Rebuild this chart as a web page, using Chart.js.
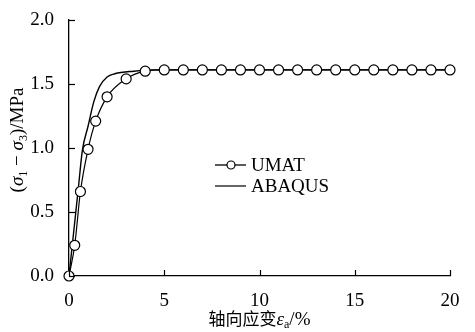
<!DOCTYPE html>
<html><head><meta charset="utf-8">
<script src="https://cdn.jsdelivr.net/npm/chart.js@4/dist/chart.umd.min.js"></script>
<style>html,body{margin:0;padding:0;background:#fff}#wrap{width:475px;height:332px}</style>
</head><body><div id="wrap"><canvas id="c" width="475" height="332"></canvas></div>
<script>
const umatStrain = [0, 0.3, 0.6, 1.0, 1.4, 2.0, 3.0, 4, 5, 6, 7, 8, 9, 10, 11, 12, 13, 14, 15, 16, 17, 18, 19, 20];
const umatStress = [0, 0.24, 0.66, 0.99, 1.21, 1.40, 1.54, 1.60, 1.61, 1.61, 1.61, 1.61, 1.61, 1.61, 1.61, 1.61, 1.61, 1.61, 1.61, 1.61, 1.61, 1.61, 1.61, 1.61];
const abaqusStrain = [0, 0.25, 0.5, 0.7, 1.0, 1.3, 1.6, 2.0, 2.4, 3.4, 4.5, 20];
const abaqusStress = [0, 0.35, 0.70, 0.98, 1.17, 1.36, 1.48, 1.555, 1.58, 1.60, 1.61, 1.61];
const xTicks = [0, 5, 10, 15, 20];
const yTicks = [0.0, 0.5, 1.0, 1.5, 2.0];
const seriesNames = ['UMAT', 'ABAQUS'];

const SERIF = '"Liberation Serif", "Times New Roman", serif';
const toXY = (xs, ys) => xs.map((x, i) => ({x: x, y: ys[i]}));

const insideTicks = {
  id: 'insideTicks',
  afterDraw(chart) {
    const ctx = chart.ctx, xs = chart.scales.x, ys = chart.scales.y, a = chart.chartArea;
    ctx.save();
    ctx.strokeStyle = '#000'; ctx.lineWidth = 1.2;
    xTicks.forEach(v => { const p = Math.round(xs.getPixelForValue(v)) + 0.5; ctx.beginPath(); ctx.moveTo(p, a.bottom); ctx.lineTo(p, a.bottom - 6); ctx.stroke(); });
    yTicks.forEach(v => { const p = Math.round(ys.getPixelForValue(v)) + 0.5; ctx.beginPath(); ctx.moveTo(a.left, p); ctx.lineTo(a.left + 6, p); ctx.stroke(); });
    ctx.restore();
  }
};

const titles = {
  id: 'titles',
  afterDraw(chart) {
    const ctx = chart.ctx, a = chart.chartArea;
    ctx.save();
    ctx.fillStyle = '#000';
    ctx.textBaseline = 'alphabetic';
    const yParts = [
      {t: '(', f: '19px ' + SERIF, dy: 0},
      {t: 'σ', f: 'italic 19px ' + SERIF, dy: 0},
      {t: '1', f: '12px ' + SERIF, dy: 4},
      {t: ' − ', f: '19px ' + SERIF, dy: 0},
      {t: 'σ', f: 'italic 19px ' + SERIF, dy: 0},
      {t: '3', f: '12px ' + SERIF, dy: 4},
      {t: ')/MPa', f: '19px ' + SERIF, dy: 0}
    ];
    let w = 0; yParts.forEach(p => { ctx.font = p.f; w += ctx.measureText(p.t).width; });
    ctx.translate(23, 140);
    ctx.rotate(-Math.PI / 2);
    let x = -w / 2;
    yParts.forEach(p => { ctx.font = p.f; ctx.fillText(p.t, x, p.dy); x += ctx.measureText(p.t).width; });
    ctx.setTransform(1, 0, 0, 1, 0, 0);
    const xParts = [
      {t: '轴向应变', f: '17px "Noto Sans CJK SC"', dy: 0},
      {t: 'ε', f: 'italic 19px ' + SERIF, dy: 0},
      {t: 'a', f: '12px ' + SERIF, dy: 3},
      {t: '/%', f: '19px ' + SERIF, dy: 0}
    ];
    w = 0; xParts.forEach(p => { ctx.font = p.f; w += ctx.measureText(p.t).width; });
    x = (a.left + a.right) / 2 - w / 2;
    xParts.forEach(p => { ctx.font = p.f; ctx.fillText(p.t, x, 325 + p.dy); x += ctx.measureText(p.t).width; });
    const items = [{y: 165, marker: true}, {y: 186, marker: false}];
    items.forEach((it, i) => {
      ctx.strokeStyle = '#000'; ctx.lineWidth = i === 0 ? 1.3 : 1.2;
      ctx.beginPath(); ctx.moveTo(215, it.y); ctx.lineTo(246, it.y); ctx.stroke();
      if (it.marker) { ctx.beginPath(); ctx.arc(231, it.y, 4, 0, Math.PI * 2); ctx.fillStyle = '#fff'; ctx.fill(); ctx.lineWidth = 1.2; ctx.stroke(); }
      ctx.fillStyle = '#000'; ctx.font = '19px ' + SERIF; ctx.textBaseline = 'middle';
      ctx.fillText(seriesNames[i], 251, it.y + 1);
    });
    ctx.restore();
  }
};

new Chart(document.getElementById('c'), {
  type: 'line',
  data: {
    datasets: [
      {label: seriesNames[0], data: toXY(umatStrain, umatStress), borderColor: '#000', borderWidth: 1.2,
       pointRadius: 5, pointBackgroundColor: '#fff', pointBorderColor: '#000', pointBorderWidth: 1.2,
       cubicInterpolationMode: 'monotone', clip: false, fill: false},
      {label: seriesNames[1], data: toXY(abaqusStrain, abaqusStress), borderColor: '#000', borderWidth: 1.4,
       pointRadius: 0, cubicInterpolationMode: 'monotone', clip: false, fill: false}
    ]
  },
  options: {
    responsive: false, animation: false, devicePixelRatio: 1,
    layout: {padding: {top: 20, right: 25, left: 0, bottom: 0}},
    plugins: {legend: {display: false}, tooltip: {enabled: false}},
    scales: {
      x: {type: 'linear', min: 0, max: 20,
          afterFit: s => { s.height = 56; },
          afterBuildTicks: s => { s.ticks = xTicks.map(v => ({value: v})); },
          ticks: {color: '#000', font: {family: SERIF, size: 19}, padding: 6, maxRotation: 0, callback: v => String(v)},
          grid: {display: false}, border: {display: true, color: '#000', width: 1.3}},
      y: {type: 'linear', min: 0, max: 2,
          afterFit: s => { s.width = 69; },
          afterBuildTicks: s => { s.ticks = yTicks.map(v => ({value: v})); },
          ticks: {color: '#000', font: {family: SERIF, size: 19}, padding: 7, callback: v => Number(v).toFixed(1)},
          grid: {display: false}, border: {display: true, color: '#000', width: 1.3}}
    }
  },
  plugins: [insideTicks, titles]
});
</script></body></html>
